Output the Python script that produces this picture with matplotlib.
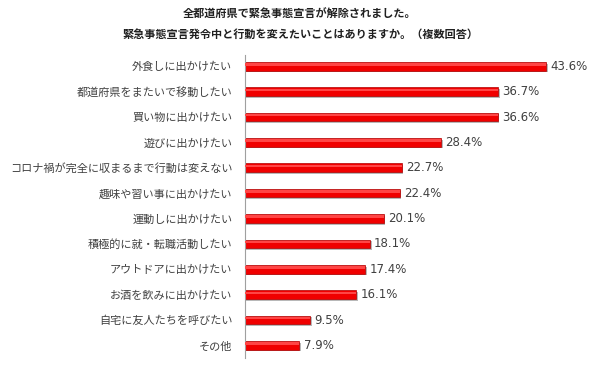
import matplotlib.pyplot as plt

plt.rcParams['font.family'] = ['Noto Sans CJK JP', 'DejaVu Sans']

TITLE_1 = "全都道府県で緊急事態宣言が解除されました。"
TITLE_2 = "緊急事態宣言発令中と行動を変えたいことはありますか。（複数回答）"

labels = [
    "外食しに出かけたい",
    "都道府県をまたいで移動したい",
    "買い物に出かけたい",
    "遊びに出かけたい",
    "コロナ禍が完全に収まるまで行動は変えない",
    "趣味や習い事に出かけたい",
    "運動しに出かけたい",
    "積極的に就・転職活動したい",
    "アウトドアに出かけたい",
    "お酒を飲みに出かけたい",
    "自宅に友人たちを呼びたい",
    "その他",
]
values = [43.6, 36.7, 36.6, 28.4, 22.7, 22.4, 20.1, 18.1, 17.4, 16.1, 9.5, 7.9]

fig = plt.figure(figsize=(6.0, 3.68), dpi=100)
ax = fig.add_axes([0.408, 0.027, 0.592, 0.824])

ypos = list(range(len(values)))

# shadow under each bar, then the red bar itself
ax.barh([y + 0.07 for y in ypos], [v + 0.25 for v in values], height=0.34,
        color='#8a8a8a', alpha=0.6, zorder=1)
ax.barh(ypos, values, height=0.34, color='#f00000', edgecolor='#b00000',
        linewidth=0.5, zorder=2)
# light highlight on top half for a bit of a 3D look
ax.barh([y - 0.07 for y in ypos], values, height=0.1, color='#ff4545',
        linewidth=0, zorder=3)

for y, v in zip(ypos, values):
    ax.text(v + 0.6, y, f"{v}%", va='center', ha='left', fontsize=8.5,
            color='#404040', family='DejaVu Sans')

ax.set_xlim(0, 51.4)
ax.set_ylim(11.5, -0.45)
ax.set_yticks(ypos)
ax.set_yticklabels(labels, fontsize=8.0, color='#404040')
ax.tick_params(axis='y', length=0, pad=9)
ax.set_xticks([])
for side in ['top', 'right', 'bottom']:
    ax.spines[side].set_visible(False)
ax.spines['left'].set_color('#a0a0a0')
ax.spines['left'].set_linewidth(0.8)

fig.text(0.5, 0.962, TITLE_1, ha='center', va='center', fontsize=8.0,
         fontweight='bold', color='#202020')
fig.text(0.5, 0.907, TITLE_2, ha='center', va='center', fontsize=8.0,
         fontweight='bold', color='#202020')

fig.savefig('out.png', dpi=100)
